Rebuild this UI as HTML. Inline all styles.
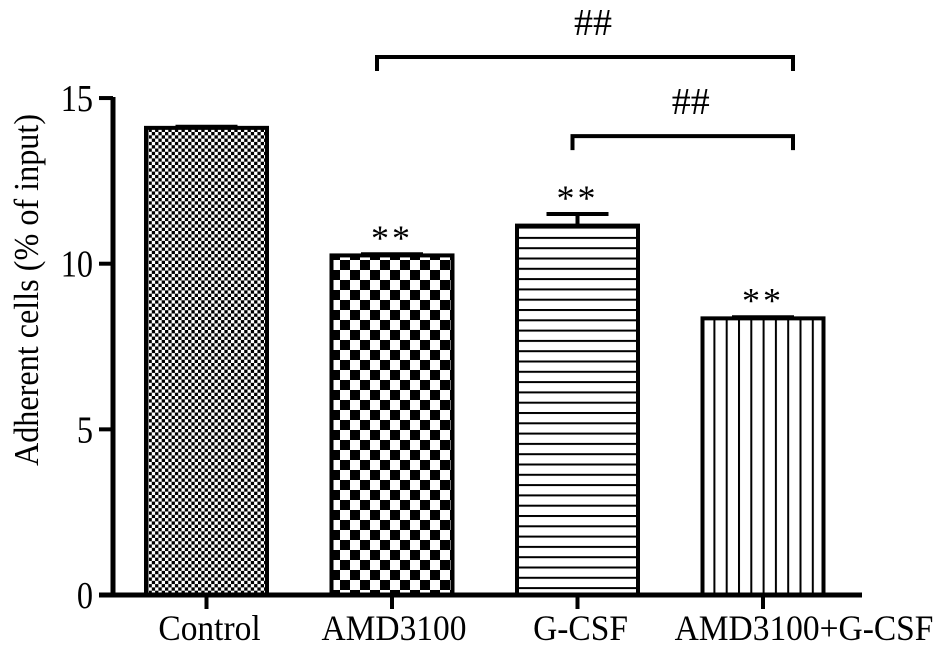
<!DOCTYPE html>
<html><head><meta charset="utf-8"><style>
html,body{margin:0;padding:0;background:#fff;}
svg{display:block;font-family:"Liberation Serif",serif;}
</style></head><body>
<svg id="chart" width="945" height="653" viewBox="0 0 945 653">
<defs>
<pattern id="pCtrl" width="6.6" height="6.6" patternUnits="userSpaceOnUse"><rect width="6.6" height="6.6" fill="#fff"/><rect width="3.3" height="3.3" fill="#000"/><rect x="3.3" y="3.3" width="3.3" height="3.3" fill="#000"/></pattern>
<pattern id="pAmd" width="20" height="20" patternUnits="userSpaceOnUse"><rect width="20" height="20" fill="#fff"/><rect width="10" height="10" fill="#000"/><rect x="10" y="10" width="10" height="10" fill="#000"/></pattern>
<pattern id="pG" width="10" height="10.3" patternUnits="userSpaceOnUse"><rect width="10" height="10.3" fill="#fff"/><rect y="0" width="10" height="2" fill="#000"/></pattern>
<pattern id="pAG" width="12.3" height="10" patternUnits="userSpaceOnUse"><rect width="12.3" height="10" fill="#fff"/><rect x="0" width="2" height="10" fill="#000"/></pattern>
</defs>
<g id="plot"></g>
<text x="0" y="0" transform="translate(38,290) rotate(-90) scale(0.92,1)" text-anchor="middle" font-size="35">Adherent cells (% of input)</text>
</svg>
<script>
const categories = ["Control","AMD3100","G-CSF","AMD3100+G-CSF"];
const values = [14.1, 10.25, 11.15, 8.35];
const errors = [0.05, 0.05, 0.35, 0.05];
const stars = ["", "**", "**", "**"];
const yTicks = [0, 5, 10, 15];
const brackets = [[1, 3, 16.24, "##"], [2, 3, 13.85, "##"]];
const fills = ["url(#pCtrl)","url(#pAmd)","url(#pG)","url(#pAG)"];
const labelShift = [3, 2, 3, 41];
const NS = "http://www.w3.org/2000/svg";
const g = document.getElementById('plot');
const y = v => 595 - v * 33.13;
const xc = i => 206.5 + i * 185.5;
const bw = 121;
function mk(tag, attrs, txt){ const e=document.createElementNS(NS,tag); for(const k in attrs) e.setAttribute(k,attrs[k]); if(txt!==undefined) e.textContent=txt; g.appendChild(e); return e; }
let ax = mk('line',{x1:113,y1:y(15)-1,x2:113,y2:597,stroke:'#000','stroke-width':5});


yTicks.forEach(t=>{
  let l = mk('line',{x1:99,y1:y(t),x2:113,y2:y(t),stroke:'#000','stroke-width':4});
  
  
  let tx = mk('text',{x:0,y:0,'text-anchor':'end','font-size':38,transform:`translate(93,${y(t)+13}) scale(0.85,1)`},String(t));
  
  
});
categories.forEach((c,i)=>{
  const top = y(values[i]);
  if(errors[i]>0.1){
    let e1 = mk('line',{x1:xc(i),y1:y(values[i]+errors[i]),x2:xc(i),y2:top,stroke:'#000','stroke-width':4});
    
    
  }
  let e2 = mk('line',{x1:xc(i)-31,y1:y(values[i]+errors[i]),x2:xc(i)+31,y2:y(values[i]+errors[i]),stroke:'#000','stroke-width':errors[i]>0.1?4:3});
  
  
  let r = mk('rect',{x:xc(i)-bw/2,y:top,width:bw,height:595-top,fill:fills[i],stroke:'#000','stroke-width':4});
  
  
  let tk = mk('line',{x1:xc(i),y1:595,x2:xc(i),y2:609,stroke:'#000','stroke-width':4});
  
  
  let lb = mk('text',{x:0,y:0,'text-anchor':'middle','font-size':36,transform:`translate(${xc(i)+labelShift[i]},640) scale(0.93,1)`},c);
  
  
  if(stars[i]){
    let s = mk('text',{x:xc(i),y:y(values[i]+errors[i])-4,'text-anchor':'middle','font-size':36,'letter-spacing':'3'},stars[i]);
    
    
  }
});
let xa = mk('line',{x1:99,y1:595,x2:862,y2:595,stroke:'#000','stroke-width':5});


brackets.forEach(b=>{
  const x1=xc(b[0])-15+(b[0]-1)*10, x2=xc(b[1])+30, yy=y(b[2]);
  let p = mk('path',{d:`M${x1},${yy+14}V${yy}H${x2}V${yy+14}`,fill:'none',stroke:'#000','stroke-width':4});
  
  
  let t = mk('text',{x:(x1+x2)/2+8,y:yy-22,'text-anchor':'middle','font-size':38},b[3]);
  
  
});
</script>
</body></html>
